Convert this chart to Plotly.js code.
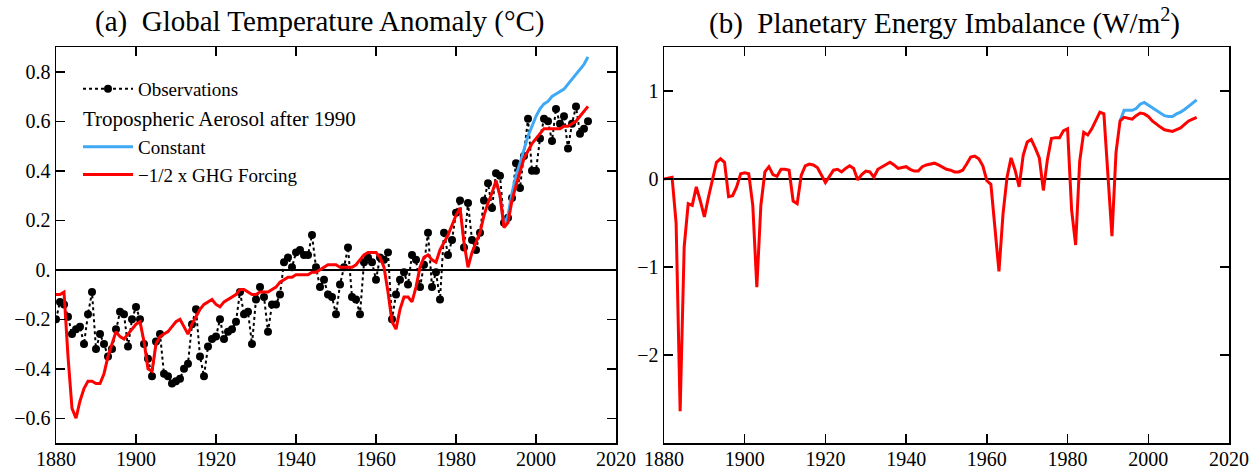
<!DOCTYPE html>
<html>
<head>
<meta charset="utf-8">
<script src="https://cdn.plot.ly/plotly-3.0.1.min.js"></script>
<style>
html,body{margin:0;padding:0;background:#fff;}
#chart{width:1256px;height:472px;}
</style>
</head>
<body>
<div id="chart"></div>
<script>
// ---------- DATA ----------
// (a) observed global temperature anomaly (°C), annual, 1880-2013
const obsStartYear = 1880;
const obsTemp = [
 -0.20,-0.13,-0.14,-0.19,-0.26,-0.24,-0.23,-0.30,-0.18,-0.09,
 -0.32,-0.26,-0.30,-0.35,-0.32,-0.24,-0.17,-0.18,-0.31,-0.20,
 -0.15,-0.20,-0.30,-0.36,-0.43,-0.29,-0.26,-0.42,-0.43,-0.46,
 -0.45,-0.44,-0.40,-0.38,-0.22,-0.16,-0.35,-0.43,-0.31,-0.28,
 -0.27,-0.20,-0.28,-0.25,-0.24,-0.21,-0.09,-0.18,-0.17,-0.30,
 -0.12,-0.07,-0.11,-0.25,-0.14,-0.14,-0.10, 0.03, 0.05, 0.01,
  0.07, 0.08, 0.06, 0.06, 0.14, 0.01,-0.07,-0.04,-0.10,-0.11,
 -0.18,-0.06, 0.01, 0.09,-0.11,-0.12,-0.18, 0.03, 0.05, 0.03,
 -0.04, 0.05, 0.04, 0.07,-0.20,-0.10,-0.04,-0.01,-0.06, 0.06,
  0.04,-0.07, 0.02, 0.15,-0.07,-0.01,-0.12, 0.15, 0.06, 0.12,
  0.23, 0.28, 0.09, 0.27, 0.12, 0.08, 0.15, 0.28, 0.35, 0.25,
  0.39, 0.38, 0.19, 0.21, 0.29, 0.43, 0.33, 0.46, 0.61, 0.40,
  0.40, 0.53, 0.61, 0.60, 0.52, 0.65, 0.59, 0.62, 0.49, 0.59,
  0.66, 0.55, 0.57, 0.60
];
// (a) model, -1/2 x GHG forcing aerosol scenario (°C), 1880-2013
const modelStartYear = 1880;
const tempGHG = [
 -0.10,-0.10,-0.09,-0.35,-0.56,-0.60,-0.53,-0.48,-0.45,-0.45,
 -0.46,-0.46,-0.42,-0.35,-0.30,-0.25,-0.27,-0.28,-0.26,-0.24,
 -0.22,-0.21,-0.29,-0.40,-0.41,-0.30,-0.27,-0.26,-0.25,-0.23,
 -0.21,-0.20,-0.23,-0.26,-0.22,-0.19,-0.16,-0.14,-0.13,-0.12,
 -0.14,-0.15,-0.13,-0.12,-0.11,-0.10,-0.08,-0.08,-0.09,-0.10,
 -0.10,-0.09,-0.09,-0.09,-0.08,-0.07,-0.05,-0.04,-0.03,-0.03,
 -0.02,-0.02,-0.02,-0.02,-0.01,-0.01, 0.00, 0.01, 0.02, 0.02,
  0.02, 0.01, 0.01, 0.01, 0.01, 0.02, 0.04, 0.06, 0.07, 0.07,
  0.07, 0.05, 0.01,-0.09,-0.21,-0.24,-0.16,-0.11,-0.11,-0.13,
 -0.07, 0.01, 0.05, 0.06, 0.04, 0.03, 0.08, 0.11, 0.14, 0.18,
  0.22, 0.25, 0.11, 0.01, 0.07, 0.11, 0.15, 0.22, 0.27, 0.31,
  0.36, 0.30, 0.17, 0.19, 0.28, 0.34, 0.40, 0.45, 0.48, 0.51,
  0.53, 0.55, 0.57, 0.57, 0.57, 0.57, 0.57, 0.58, 0.58, 0.59,
  0.60, 0.62, 0.64, 0.66
];
// (a) model, constant aerosol after 1990 (°C), 1990-2013
const constStartYear = 1990;
const tempConst = [
  0.36, 0.30, 0.18, 0.22, 0.31, 0.38, 0.43, 0.49, 0.54, 0.58,
  0.62, 0.65, 0.67, 0.68, 0.70, 0.71, 0.72, 0.73, 0.75, 0.77,
  0.79, 0.81, 0.83, 0.86
];
// (b) planetary energy imbalance (W/m2), -1/2 x GHG scenario, 1880-2012
const imbStartYear = 1880;
const imbGHG = [
  0.00, 0.01, 0.02,-0.50,-2.64,-0.77,-0.28,-0.30,-0.09,-0.25,
 -0.43,-0.21,-0.02, 0.19, 0.23, 0.19,-0.20,-0.19,-0.09, 0.06,
  0.07, 0.06,-0.30,-1.23,-0.30, 0.08, 0.14, 0.05, 0.03, 0.11,
  0.11, 0.10,-0.25,-0.28, 0.04, 0.15, 0.17, 0.16, 0.13, 0.05,
 -0.04, 0.03, 0.10, 0.11, 0.08, 0.12, 0.15, 0.12,-0.01, 0.05,
  0.09, 0.08, 0.02, 0.11, 0.14, 0.17, 0.19, 0.16, 0.12, 0.13,
  0.14, 0.11, 0.09, 0.09, 0.14, 0.16, 0.17, 0.18, 0.16, 0.13,
  0.11, 0.10, 0.08, 0.08, 0.10, 0.17, 0.25, 0.26, 0.23, 0.15,
 -0.02,-0.06,-0.55,-1.05,-0.40, 0.02, 0.24, 0.10,-0.09, 0.27,
  0.42, 0.45, 0.35, 0.24,-0.13, 0.22, 0.46, 0.47, 0.47, 0.55,
  0.57,-0.35,-0.75, 0.20, 0.53, 0.50, 0.57, 0.66, 0.76, 0.74,
  0.10,-0.65, 0.30, 0.66, 0.70, 0.69, 0.68, 0.72, 0.75, 0.74,
  0.71, 0.66, 0.62, 0.59, 0.56, 0.55, 0.54, 0.56, 0.58, 0.62,
  0.66, 0.68, 0.70
];
// (b) constant aerosol after 1990 (W/m2), 1993-2012
const imbConstStartYear = 1993;
const imbConst = [
  0.66, 0.78, 0.78, 0.78, 0.80, 0.85, 0.87, 0.84, 0.81, 0.79,
  0.76, 0.72, 0.71, 0.71, 0.74, 0.76, 0.79, 0.83, 0.87, 0.90
];
// axis ticks
const xTicks = [1880, 1900, 1920, 1940, 1960, 1980, 2000, 2020];
const yTicksA = [-0.6, -0.4, -0.2, 0, 0.2, 0.4, 0.6, 0.8];
const yTickTextA = ['\u22120.6', '\u22120.4', '\u22120.2', '0.', '0.2', '0.4', '0.6', '0.8'];
const yTicksB = [-2, -1, 0, 1];
const yTickTextB = ['\u22122', '\u22121', '0', '1'];
const titleA = '(a)\u00a0\u00a0Global Temperature Anomaly (\u00b0C)';
const titleB = '(b)\u00a0\u00a0Planetary Energy Imbalance (W/m<sup>2</sup>)';
const legendHeader = 'Tropospheric Aerosol after 1990';
const nameObs = 'Observations';
const nameConst = 'Constant';
const nameGHG = '\u22121/2 x GHG Forcing';

// ---------- BUILD ----------
function yearsFor(start, arr) { return arr.map((_, i) => start + i); }

const FONT = 'Liberation Serif, DejaVu Serif, serif';
const RED = '#ff0000';
const BLUE = '#3fa9f5';

const traces = [
  { x: yearsFor(obsStartYear, obsTemp), y: obsTemp, xaxis: 'x', yaxis: 'y',
    mode: 'lines+markers', name: nameObs, legendgroup: 'obs',
    line: { color: '#000', width: 2, dash: 'dot' },
    marker: { color: '#000', size: 8, symbol: 'circle' } },
  { x: yearsFor(constStartYear, tempConst), y: tempConst, xaxis: 'x', yaxis: 'y',
    mode: 'lines', name: nameConst, legendgroup: 'aer',
    legendgrouptitle: { text: legendHeader, font: { family: FONT, size: 21, color: '#000' } },
    line: { color: BLUE, width: 3 } },
  { x: yearsFor(modelStartYear, tempGHG), y: tempGHG, xaxis: 'x', yaxis: 'y',
    mode: 'lines', name: nameGHG, legendgroup: 'aer',
    line: { color: RED, width: 3 } },
  { x: yearsFor(imbConstStartYear, imbConst), y: imbConst, xaxis: 'x2', yaxis: 'y2',
    mode: 'lines', name: nameConst, showlegend: false,
    line: { color: BLUE, width: 3 } },
  { x: yearsFor(imbStartYear, imbGHG), y: imbGHG, xaxis: 'x2', yaxis: 'y2',
    mode: 'lines', name: nameGHG, showlegend: false,
    line: { color: RED, width: 3 } }
];

const axisCommon = {
  showline: true, linecolor: '#000', linewidth: 1.5, mirror: 'ticks',
  ticks: 'inside', ticklen: 9, tickwidth: 1.5, tickcolor: '#000',
  showgrid: false, tickfont: { family: FONT, size: 20, color: '#000' }
};

const H = 472, W = 1256, T = 47, B = 29;
const plotH = H - T - B;

const layout = {
  width: W, height: H,
  margin: { l: 0, r: 0, t: T, b: B },
  paper_bgcolor: '#fff', plot_bgcolor: '#fff',
  font: { family: FONT, color: '#000' },
  showlegend: true,
  legend: {
    x: 78 / W, xanchor: 'left', y: 1 - (70 - T) / plotH, yanchor: 'top',
    bgcolor: 'rgba(0,0,0,0)', borderwidth: 0, traceorder: 'grouped',
    tracegroupgap: 0, itemwidth: 50,
    font: { family: FONT, size: 19, color: '#000' }
  },
  xaxis: Object.assign({}, axisCommon, {
    domain: [56 / W, 616 / W], range: [1880, 2020], tickvals: xTicks, anchor: 'y',
    ticklabelstandoff: -3
  }),
  yaxis: Object.assign({}, axisCommon, {
    domain: [0, 1], range: [-0.7, 0.9], tickvals: yTicksA, ticktext: yTickTextA,
    zeroline: true, zerolinecolor: '#000', zerolinewidth: 1.5, anchor: 'x'
  }),
  xaxis2: Object.assign({}, axisCommon, {
    domain: [664 / W, 1229 / W], range: [1880, 2020], tickvals: xTicks, anchor: 'y2',
    ticklabelstandoff: -3
  }),
  yaxis2: Object.assign({}, axisCommon, {
    domain: [0, 1], range: [-3, 1.5], tickvals: yTicksB, ticktext: yTickTextB,
    zeroline: true, zerolinecolor: '#000', zerolinewidth: 1.5, anchor: 'x2'
  }),
  annotations: [
    { text: titleA, xref: 'paper', yref: 'paper', x: 320 / W, y: 1 + (T - 22) / plotH,
      xanchor: 'center', yanchor: 'middle', showarrow: false,
      font: { family: FONT, size: 29, color: '#000' } },
    { text: titleB, xref: 'paper', yref: 'paper', x: 944 / W, y: 1 + (T - 22) / plotH,
      xanchor: 'center', yanchor: 'middle', showarrow: false,
      font: { family: FONT, size: 29, color: '#000' } }
  ]
};

Plotly.newPlot('chart', traces, layout, { staticPlot: true, displayModeBar: false });
</script>
</body>
</html>
